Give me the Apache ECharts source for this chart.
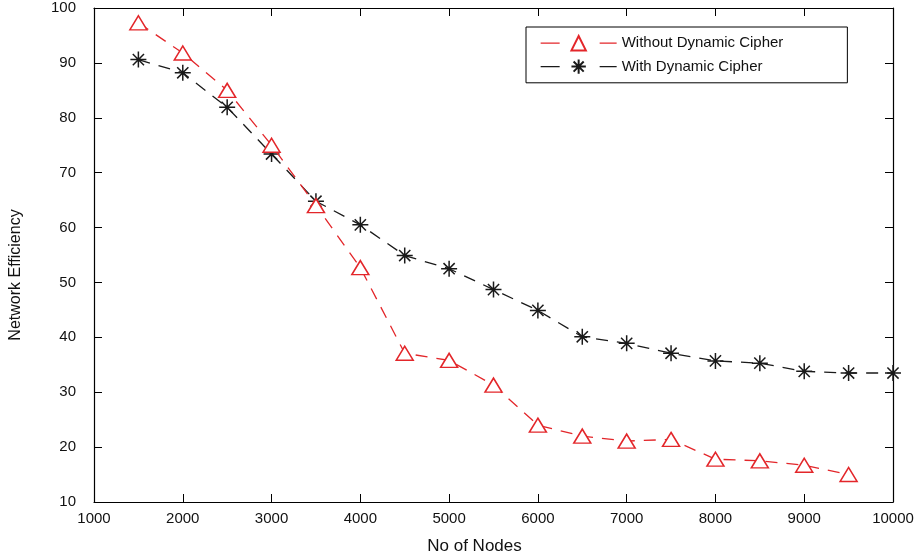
<!DOCTYPE html>
<html>
<head>
<meta charset="utf-8">
<script src="https://cdn.jsdelivr.net/npm/echarts@6/dist/echarts.min.js"></script>
<style>
  html, body { margin: 0; padding: 0; background: #fff; }
  #chart { width: 920px; height: 560px; }
</style>
</head>
<body>
<div id="chart"></div>
<script>
const nodes = [1500, 2000, 2500, 3000, 3500, 4000, 4500, 5000, 5500, 6000, 6500, 7000, 7500, 8000, 8500, 9000, 9500, 10000];
const withoutCipher = [97.3, 91.8, 85, 75, 64, 52.7, 37.1, 35.8, 31.3, 24, 22, 21.1, 21.4, 17.8, 17.5, 16.7, 15];
const withCipher = [90.6, 88.2, 81.9, 73.4, 64.8, 60.5, 54.9, 52.5, 48.7, 44.9, 40.1, 38.9, 37.1, 35.7, 35.3, 33.8, 33.5, 33.5];
const seriesNames = ["Without Dynamic Cipher", "With Dynamic Cipher"];

const RED = "#e3262a";
const BLACK = "#1a1a1a";
const FONT = "Liberation Sans";
const STAR = "path://M0,-10L0,10M-10,0L10,0M-7,-7L7,7M-7,7L7,-7";

const pairs = (ys) => ys.map((y, i) => [nodes[i], y]);

const tickStyle = { show: true, inside: true, length: 8, lineStyle: { color: "#000", width: 1 } };
const axisLine = { show: true, lineStyle: { color: "#000", width: 1.2 } };

const chart = echarts.init(document.getElementById("chart"), null, { renderer: "canvas" });
chart.setOption({
  animation: false,
  backgroundColor: "#fff",
  textStyle: { fontFamily: FONT },
  grid: { left: 92, right: 27, top: 8, bottom: 55 },
  legend: {
    data: seriesNames,
    orient: "vertical",
    left: 526,
    top: 27,
    itemWidth: 76,
    itemHeight: 18,
    itemGap: 7,
    padding: [8, 64, 8, 14],
    borderColor: "#000",
    borderWidth: 1,
    lineStyle: { type: [19, 40], width: 1.3 },
    textStyle: { fontFamily: FONT, fontSize: 15, color: "#111" }
  },
  xAxis: [
    {
      type: "value", min: 1000, max: 10000, interval: 1000,
      name: "No of Nodes", nameLocation: "middle", nameGap: 36,
      nameTextStyle: { fontFamily: FONT, fontSize: 17, color: "#111", padding: [0, 38, 0, 0] },
      axisLine: axisLine, axisTick: tickStyle,
      axisLabel: { fontFamily: FONT, fontSize: 15, color: "#111", margin: 9, formatter: (v) => String(v) },
      splitLine: { show: false }
    },
    {
      type: "value", position: "top", min: 1000, max: 10000, interval: 1000,
      axisLine: axisLine, axisTick: tickStyle, axisLabel: { show: false }, splitLine: { show: false }
    }
  ],
  yAxis: [
    {
      type: "value", min: 10, max: 100, interval: 10,
      name: "Network Efficiency", nameLocation: "middle", nameGap: 70, nameRotate: 90,
      nameTextStyle: { fontFamily: FONT, fontSize: 16, color: "#111", padding: [0, 40, 0, 0] },
      axisLine: axisLine, axisTick: tickStyle,
      axisLabel: { fontFamily: FONT, fontSize: 15, color: "#111", margin: 18 },
      splitLine: { show: false }
    },
    {
      type: "value", position: "right", min: 10, max: 100, interval: 10,
      axisLine: axisLine, axisTick: tickStyle, axisLabel: { show: false }, splitLine: { show: false }
    }
  ],
  series: [
    {
      name: seriesNames[0],
      type: "line",
      data: pairs(withoutCipher),
      symbol: "triangle",
      symbolSize: [17, 14],
      lineStyle: { color: RED, width: 1.3, type: [12, 9] },
      itemStyle: { color: "#fff", borderColor: RED, borderWidth: 1.5 },
      z: 3
    },
    {
      name: seriesNames[1],
      type: "line",
      data: pairs(withCipher),
      symbol: STAR,
      symbolSize: 16,
      lineStyle: { color: BLACK, width: 1.3, type: [12, 9] },
      itemStyle: { color: BLACK, borderColor: BLACK, borderWidth: 1.5 },
      z: 2
    }
  ]
});
</script>
</body>
</html>
